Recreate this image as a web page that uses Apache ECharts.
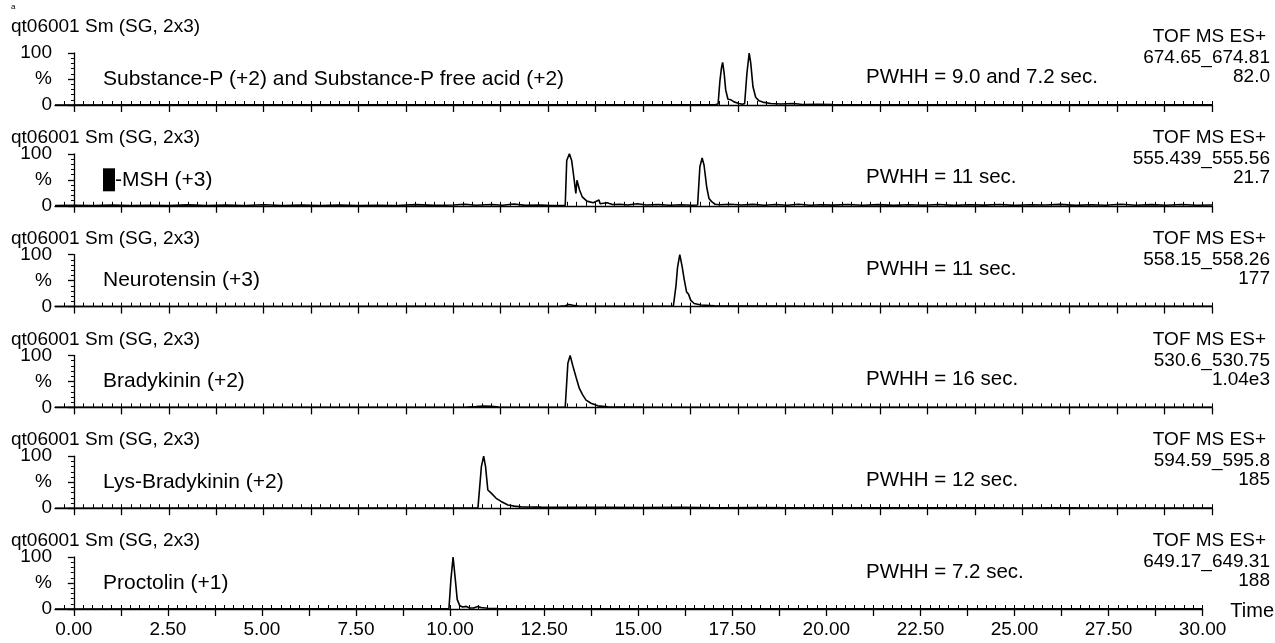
<!DOCTYPE html>
<html>
<head>
<meta charset="utf-8">
<script src="https://cdn.jsdelivr.net/npm/echarts@6/dist/echarts.min.js"></script>
<style>
  html, body { margin: 0; padding: 0; background: #fff; }
  #chart { width: 1275px; height: 643px; }
</style>
</head>
<body>
<div id="chart"></div>
<script>
// chromatogram traces, [time (min), % of max]
const substanceP = [[-0.5,0],[2,0.3],[5,0.2],[8,0.3],[11,0.2],[14,0.3],[16,0.3],[16.9,0.4],[16.98,2],[17.03,48],[17.07,72],[17.10,82],[17.14,61],[17.18,29],[17.24,11],[17.32,10],[17.40,6],[17.53,3],[17.62,1.5],[17.68,3],[17.74,61],[17.80,100],[17.84,81],[17.90,35],[17.97,15],[18.06,8],[18.19,5],[18.37,3],[18.63,2],[18.98,3],[19.2,1],[19.6,1.5],[20,0.8],[21,0.5],[22,0.6],[24,0.3],[26,0.4],[28,0.3],[30,0.3]];
const alphaMSH = [[-0.5,0.5],[0,1],[0.5,0.3],[1,1.5],[1.5,0.5],[2,1.2],[2.5,0.4],[3,1.8],[3.5,0.6],[4,1.3],[4.5,0.5],[5,2],[5.5,0.7],[6,1.4],[6.5,0.4],[7,1.6],[7.5,0.6],[8,1.2],[8.5,0.5],[9,2.2],[9.5,0.8],[10,1.5],[10.3,3],[10.6,1],[11,2.5],[11.3,1.2],[11.6,3.5],[11.9,0.8],[12.3,1.4],[12.6,0.6],[12.95,1],[12.99,87],[13.06,100],[13.12,87],[13.16,65],[13.20,62],[13.23,24],[13.26,49],[13.29,46],[13.33,30],[13.40,17],[13.52,9],[13.69,6],[13.84,11],[13.87,4],[14.05,6],[14.2,2.5],[14.4,3],[14.6,1.5],[14.85,4],[15.1,1.5],[15.4,2.5],[15.7,1],[16.0,2],[16.3,1.2],[16.44,1.5],[16.50,75],[16.56,92],[16.61,78],[16.68,36],[16.74,14],[16.81,8],[16.90,3],[17.03,2],[17.3,3],[17.6,1.5],[17.9,2.8],[18.2,1],[18.5,2.5],[18.8,1.2],[19.1,3],[19.4,1],[19.7,2],[20,1.3],[20.4,2.6],[20.8,1],[21.2,2.2],[21.6,0.8],[22,2],[22.4,1.1],[22.8,2.4],[23.2,0.9],[23.6,2],[24,1.3],[24.4,2.5],[24.8,0.8],[25.2,2],[25.6,1.4],[26,2.7],[26.4,0.9],[26.8,2],[27.2,1.2],[27.6,3],[28,1],[28.4,2.2],[28.8,1],[29.2,2.5],[29.6,1],[30,1.5]];
const neurotensin = [[-0.5,0],[3,0.3],[6,0.2],[9,0.4],[11,0.3],[12.8,0.5],[12.95,1.5],[13.05,4],[13.15,2.5],[13.3,1.2],[13.6,0.8],[14.5,0.5],[15.5,0.6],[15.80,1],[15.87,40],[15.91,75],[15.97,100],[16.03,78],[16.09,51],[16.15,28],[16.20,24],[16.26,12],[16.35,6],[16.53,3],[16.88,1.5],[17.5,1],[18.5,1.2],[19.5,0.6],[21,0.8],[23,0.5],[25,0.6],[27,0.4],[30,0.4]];
const bradykinin = [[-0.5,0],[3,0.1],[6,0.2],[9,0.2],[10.3,0.3],[10.6,1.5],[10.8,2.8],[11.0,2],[11.2,0.8],[11.6,0.3],[12.5,0.2],[12.95,0.5],[13.02,85],[13.08,100],[13.15,80],[13.24,57],[13.32,37],[13.41,24],[13.50,14],[13.63,8],[13.81,3],[14.07,1],[15,0.6],[17,0.3],[20,0.2],[25,0.1],[30,0.1]];
const lysBradykinin = [[-0.5,0],[3,0.3],[6,0.4],[9,0.3],[10.3,0.5],[10.65,1],[10.74,80],[10.80,100],[10.85,80],[10.91,35],[11.00,29],[11.13,19],[11.26,13],[11.44,6],[11.61,4],[11.79,2.5],[12.32,2],[13,1.8],[14,1.5],[15,1.2],[16,1.5],[17,1],[18,1.2],[19,0.8],[20,1],[21,0.7],[22,0.9],[23,0.6],[24,0.8],[25,0.5],[26,0.6],[27,0.5],[28,0.4],[30,0.3]];
const proctolin = [[-0.5,0],[3,0.2],[6,0.3],[9,0.3],[9.9,0.3],[9.97,1],[10.02,55],[10.08,100],[10.14,56],[10.19,18],[10.26,6],[10.34,4],[10.43,5],[10.52,2],[10.62,2],[10.74,5],[10.82,3],[11.0,1.5],[11.26,0.8],[12,0.5],[14,0.4],[17,0.3],[20,0.4],[25,0.3],[30,0.3]];

const traces = [substanceP, alphaMSH, neurotensin, bradykinin, lysBradykinin, proctolin];
const traceTitle = 'qt06001 Sm (SG, 2x3)';
const traceNames = ['Substance-P (+2) and Substance-P free acid (+2)', '-MSH (+3)', 'Neurotensin (+3)', 'Bradykinin (+2)', 'Lys-Bradykinin (+2)', 'Proctolin (+1)'];
const pwhhText = ['PWHH = 9.0 and 7.2 sec.', 'PWHH = 11 sec.', 'PWHH = 11 sec.', 'PWHH = 16 sec.', 'PWHH = 12 sec.', 'PWHH = 7.2 sec.'];
const massRanges = ['674.65_674.81', '555.439_555.56', '558.15_558.26', '530.6_530.75', '594.59_595.8', '649.17_649.31'];
const maxIntensity = ['82.0', '21.7', '177', '1.04e3', '185', '188'];
const xLabelValues = [0, 2.5, 5, 7.5, 10, 12.5, 15, 17.5, 20, 22.5, 25, 27.5, 30];
const yLabelText = { 0: '0', 50: '%', 100: '100' };

const FONT = '"Liberation Sans", Arial, sans-serif';
const X_MIN = -0.5, X_MAX = 30;
const majorTicks = [], minorTicks = [];
for (let t = 0; t <= X_MAX + 1e-6; t += 1.25) majorTicks.push(+t.toFixed(2));
for (let t = -0.25; t <= X_MAX + 1e-6; t += 0.25) minorTicks.push(+t.toFixed(2));

const chart = echarts.init(document.getElementById('chart'), null, { renderer: 'canvas' });

const grids = [], xAxes = [], yAxes = [], series = [], graphics = [];
const GL = 55, GW = 1157, GH = 52;

traces.forEach((data, i) => {
    const base = 105 + 100.8 * i;
    const top = base - GH;
    const last = i === traces.length - 1;
    grids.push({ left: GL, top: top, width: GW, height: GH });

    xAxes.push({
        type: 'value', gridIndex: i, min: X_MIN, max: X_MAX,
        axisLine: { show: true, onZero: false, lineStyle: { color: '#000', width: 1.3 } },
        axisTick: { show: true, customValues: majorTicks, length: 7, lineStyle: { color: '#000', width: 1.3 } },
        axisLabel: last ? {
            show: true, customValues: xLabelValues, margin: 11, color: '#000',
            fontFamily: FONT, fontSize: 19, formatter: v => v.toFixed(2)
        } : { show: false },
        splitLine: { show: false },
        name: last ? 'Time' : '', nameLocation: 'end', nameGap: 8,
        nameTextStyle: { color: '#000', fontFamily: FONT, fontSize: 20, verticalAlign: 'top', padding: [-8, 0, 0, 0] }
    });
    xAxes.push({
        type: 'value', gridIndex: i, min: X_MIN, max: X_MAX,
        axisLine: { show: false },
        axisTick: { show: true, customValues: minorTicks, length: 4, lineStyle: { color: '#000', width: 1 } },
        axisLabel: { show: false }, splitLine: { show: false }
    });

    yAxes.push({
        type: 'value', gridIndex: i, min: 0, max: 100, interval: 50,
        axisLine: { show: true, lineStyle: { color: '#000', width: 1.3 } },
        axisTick: { show: true, length: 6, lineStyle: { color: '#000', width: 1.3 } },
        minorTick: { show: true, splitNumber: 5, length: 3, lineStyle: { color: '#000' } },
        axisLabel: { color: '#000', fontFamily: FONT, fontSize: 19, margin: 3, formatter: v => yLabelText[v] },
        splitLine: { show: false }
    });

    series.push({
        type: 'line', xAxisIndex: 2 * i, yAxisIndex: i, data: data,
        showSymbol: false, symbol: 'none', smooth: false,
        lineStyle: { color: '#000', width: 1.6 }, silent: true, animation: false
    });

    const txt = (x, y, text, align, size) => ({
        type: 'text', x: x, y: y, silent: true,
        style: { text: text, fill: '#000', font: (size || 19) + 'px ' + FONT, align: align || 'left', verticalAlign: 'middle' }
    });

    graphics.push(txt(11, i === 0 ? top - 26 : top - 16, traceTitle));
    if (i === 1) {
        graphics.push({
            type: 'text', x: 103, y: top + 26, silent: true,
            style: {
                text: '{b| }{t|' + traceNames[i] + '}', verticalAlign: 'middle',
                rich: {
                    b: { width: 12, height: 23, backgroundColor: '#000' },
                    t: { fill: '#000', fontFamily: FONT, fontSize: 21 }
                }
            }
        });
    } else {
        graphics.push(txt(103, top + 26, traceNames[i], 'left', 21));
    }
    graphics.push(txt(866, (i === 2 || i === 5) ? top + 15 : top + 24, pwhhText[i], 'left', 20.5));
    graphics.push(txt(1266, top - 16, 'TOF MS ES+', 'right'));
    graphics.push(txt(1270, top + 5, massRanges[i], 'right'));
    graphics.push(txt(1270, top + 24, maxIntensity[i], 'right'));
});
graphics.push({ type: 'text', x: 11, y: 7, silent: true, style: { text: 'a', fill: '#000', font: '8px ' + FONT, align: 'left', verticalAlign: 'middle' } });

chart.setOption({
    animation: false,
    backgroundColor: '#fff',
    grid: grids,
    xAxis: xAxes,
    yAxis: yAxes,
    series: series,
    graphic: graphics
});
</script>
</body>
</html>
